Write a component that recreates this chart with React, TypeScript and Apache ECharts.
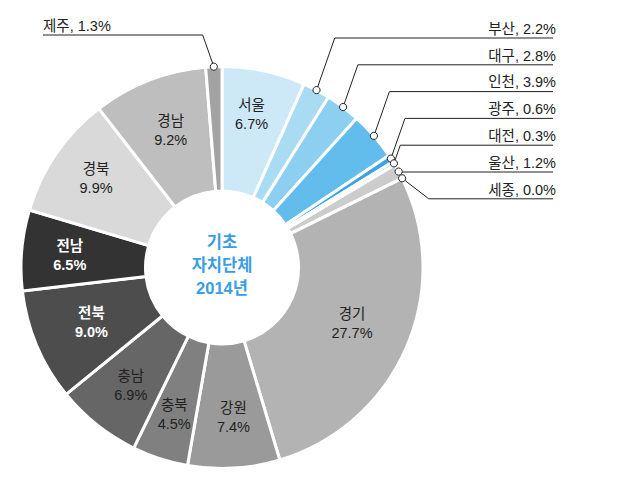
import React, { useEffect, useRef } from "react";
import * as echarts from "echarts";

// ---- data ----
const regions = ["서울", "부산", "대구", "인천", "광주", "대전", "울산", "세종", "경기", "강원", "충북", "충남", "전북", "전남", "경북", "경남", "제주"];
const shares = [6.7, 2.2, 2.8, 3.9, 0.6, 0.3, 1.2, 0.0, 27.7, 7.4, 4.5, 6.9, 9.0, 6.5, 9.9, 9.2, 1.3];
const centerLines = ["기초", "자치단체", "2014년"];
const rightLabelled = ["부산", "대구", "인천", "광주", "대전", "울산", "세종"];
const leftLabelled = ["제주"];
const whiteBold = ["전북", "전남"];

// ---- styles / layout ----
const sliceColors = [
  "#cde9f8", "#a9dcf3", "#8ccff0", "#62bdec", "#3aa3e4", "#bfe3f6", "#cccccc", "#c4c4c4",
  "#b3b3b3", "#9a9a9a", "#808080", "#666666", "#4d4d4d", "#333333", "#d9d9d9", "#bebebe", "#a3a3a3",
];
const insideNudge: Record<string, [number, number]> = {
  서울: [0, -14], 경남: [0, -5], 경북: [-9, -9], 전남: [-11, 0], 충남: [-3, 7], 충북: [-4, 12], 강원: [3, 9],
};
const FONT = "'Liberation Sans', 'Noto Sans CJK KR', sans-serif";
const CX = 222;
const CY = 267.5;
const RIGHT_X = 556;
const TOP_Y = 38;
const STEP_Y = 26.8;
const LEFT_X = 43;
const LEFT_Y = 35;

export default function App() {
  const ref = useRef<HTMLDivElement>(null);
  useEffect(() => {
    if (!ref.current) return;
    const chart = echarts.init(ref.current, null, { renderer: "svg" });
    const dots: Record<number, [number, number]> = {};

    const data = regions.map((name, i) => {
      const outside = rightLabelled.includes(name) || leftLabelled.includes(name);
      const wb = whiteBold.includes(name);
      const item: any = {
        name,
        value: shares[i],
        itemStyle: { color: sliceColors[i] },
      };
      if (outside) {
        item.label = {
          position: "outside",
          formatter: (p: any) => `${p.name}, ${Number(p.value).toFixed(1)}%`,
          fontSize: 14.5,
          color: "#222",
        };
        item.labelLine = { show: true };
      } else {
        item.label = {
          position: "inside",
          formatter: (p: any) => `${p.name}\n${Number(p.value).toFixed(1)}%`,
          fontSize: 14.5,
          lineHeight: 19,
          color: wb ? "#ffffff" : "#222222",
          fontWeight: wb ? "bold" : "normal",
          offset: insideNudge[name] || [0, 0],
        };
        item.labelLine = { show: false };
      }
      return item;
    });

    const centerText = {
      id: "center",
      type: "text",
      x: CX,
      y: CY - 3,
      z: 20,
      style: {
        text: centerLines.join("\n"),
        fontSize: 16.5,
        fontWeight: "bold",
        fontFamily: FONT,
        fill: "#3a9de3",
        align: "center",
        verticalAlign: "middle",
        lineHeight: 23,
      },
    };

    const option: any = {
      animation: false,
      backgroundColor: "#ffffff",
      textStyle: { fontFamily: FONT },
      series: [
        {
          type: "pie",
          center: [CX, CY],
          radius: [76.5, 201],
          startAngle: 90,
          clockwise: true,
          avoidLabelOverlap: false,
          itemStyle: { borderColor: "#ffffff", borderWidth: 3 },
          label: { fontFamily: FONT },
          labelLine: {
            show: true,
            length: 10,
            length2: 10,
            smooth: false,
            lineStyle: { color: "#222222", width: 1 },
          },
          emphasis: { disabled: true },
          labelLayout: (p: any) => {
            const name = regions[p.dataIndex];
            const pts = p.labelLinePoints;
            if (!pts) return {};
            const [x0, y0] = pts[0];
            if (leftLabelled.includes(name)) {
              dots[p.dataIndex] = [x0, y0];
              const dy = y0 - LEFT_Y;
              return {
                x: LEFT_X,
                y: LEFT_Y - 2,
                align: "left",
                verticalAlign: "bottom",
                labelLinePoints: [[x0, y0], [x0 - 0.35 * dy, LEFT_Y], [LEFT_X, LEFT_Y]],
              };
            }
            const k = rightLabelled.indexOf(name);
            if (k < 0) return {};
            dots[p.dataIndex] = [x0, y0];
            const ly = TOP_Y + k * STEP_Y;
            const dy = y0 - ly;
            const ex = dy > 0 ? x0 + 0.35 * dy : x0 + 1.3 * -dy;
            return {
              x: RIGHT_X,
              y: ly - 2,
              align: "right",
              verticalAlign: "bottom",
              labelLinePoints: [[x0, y0], [ex, ly], [RIGHT_X - 3, ly]],
            };
          },
          data,
        },
      ],
      graphic: [centerText],
    };
    chart.setOption(option);

    const dotEls = Object.keys(dots).map((k) => ({
      id: "dot" + k,
      type: "circle",
      z: 30,
      shape: { cx: dots[+k][0], cy: dots[+k][1], r: 3.6 },
      style: { fill: "#ffffff", stroke: "#222222", lineWidth: 1 },
    }));
    chart.setOption({ graphic: [centerText, ...dotEls] });

    return () => chart.dispose();
  }, []);
  return (
    <div
      ref={ref}
      style={{ position: "absolute", left: 0, top: 0, width: 632, height: 491, background: "#fff" }}
    />
  );
}
